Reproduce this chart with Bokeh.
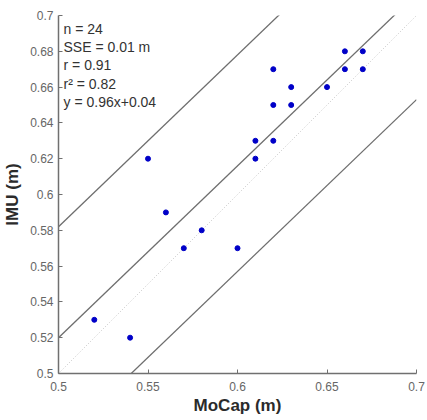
from bokeh.plotting import figure
from bokeh.models import Range1d, FixedTicker
from bokeh.core.properties import value
from bokeh.embed import file_html
from bokeh.resources import INLINE

# data
mocap = [0.52, 0.54, 0.55, 0.56, 0.57, 0.58, 0.60, 0.61, 0.61, 0.62, 0.62, 0.62, 0.63, 0.63, 0.65, 0.66, 0.66, 0.67, 0.67]
imu   = [0.53, 0.52, 0.62, 0.59, 0.57, 0.58, 0.57, 0.62, 0.63, 0.63, 0.65, 0.67, 0.65, 0.66, 0.66, 0.67, 0.68, 0.67, 0.68]

slope = 0.96
intercept = 0.04
upper_offset = 0.062
lower_offset = 0.059

x_ticks = [0.5, 0.55, 0.6, 0.65, 0.7]
x_tick_labels = ["0.5", "0.55", "0.6", "0.65", "0.7"]
y_ticks = [0.5, 0.52, 0.54, 0.56, 0.58, 0.6, 0.62, 0.64, 0.66, 0.68, 0.7]
y_tick_labels = ["0.5", "0.52", "0.54", "0.56", "0.58", "0.6", "0.62", "0.64", "0.66", "0.68", "0.7"]

stats_lines = ["n = 24", "SSE = 0.01 m", "r = 0.91", "r\u00b2 = 0.82", "y = 0.96x+0.04"]

FONT = "Liberation Sans"

p = figure(frame_width=358, frame_height=358,
           x_range=Range1d(0.5, 0.7), y_range=Range1d(0.5, 0.7),
           output_backend="svg", toolbar_location=None,
           min_border_left=51, min_border_right=10, min_border_top=15, min_border_bottom=40)
p.outline_line_color = None
p.grid.visible = False
p.background_fill_color = "white"
p.border_fill_color = "white"

xs = [x_ticks[0], x_ticks[-1]]
# identity line (dotted)
p.line(xs, xs, line_color="#c4c4c4", line_width=1, line_dash="1 2")
# regression line and limits
p.line(xs, [slope * x + intercept for x in xs], line_color="#6e6e6e", line_width=1.3)
p.line(xs, [slope * x + intercept + upper_offset for x in xs], line_color="#6e6e6e", line_width=1.3)
p.line(xs, [slope * x + intercept - lower_offset for x in xs], line_color="#6e6e6e", line_width=1.3)

p.scatter(mocap, imu, size=5, fill_color="#0000c8", line_color="#0000c8")

# stats text
tx = 0.5028
ty0 = 0.6927
step = 0.0103
p.text(x=[tx] * len(stats_lines), y=[ty0 - i * step for i in range(len(stats_lines))],
       text=stats_lines, text_font=value(FONT), text_font_size="14px",
       text_color="#333333", text_baseline="alphabetic", text_align="left")

for ax, ticks, labels in ((p.xaxis, x_ticks, x_tick_labels), (p.yaxis, y_ticks, y_tick_labels)):
    ax.ticker = FixedTicker(ticks=ticks)
    ax.major_label_overrides = {t: l for t, l in zip(ticks, labels)}
    ax.major_tick_in = 4
    ax.major_tick_out = 0
    ax.minor_tick_line_color = None
    ax.axis_line_color = "#707070"
    ax.axis_line_width = 1.5
    ax.major_tick_line_color = "#707070"
    ax.major_label_text_font = FONT
    ax.major_label_text_font_size = "12px"
    ax.major_label_text_color = "#666666"
    ax.axis_label_text_font = FONT
    ax.axis_label_text_font_size = "17px"
    ax.axis_label_text_font_style = "bold"
    ax.axis_label_text_color = "#2b2b2b"

p.xaxis.axis_label = "MoCap (m)"
p.yaxis.axis_label = "IMU (m)"
p.xaxis.major_label_standoff = 8
p.xaxis.axis_label_standoff = 2
p.yaxis.major_label_standoff = 5
p.yaxis.axis_label_standoff = 5

open("out.html", "w").write(file_html(p, INLINE))
